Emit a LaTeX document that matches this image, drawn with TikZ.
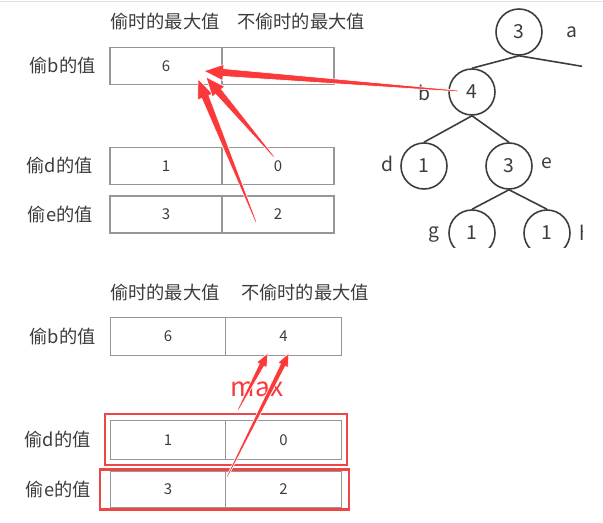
\documentclass[tikz,border=0pt]{standalone}
\usepackage{fontspec}
\setmainfont{Noto Sans CJK SC}
\usetikzlibrary{calc}

\definecolor{arrowred}{RGB}{250,58,58}
\definecolor{boxred}{RGB}{236,70,70}
\definecolor{cellgray}{RGB}{150,150,150}
\definecolor{inkgray}{RGB}{60,60,60}

% tapered red arrow: start, tip, size
\newcommand\redarrow[3]{%
  \coordinate (ab) at ($(#2)!#3*11pt!(#1)$);
  \filldraw[arrowred, draw=white, line width=0.35pt]
    ($(#1)!0.4pt!90:(#2)$) -- ($(ab)!#3*2.2pt!90:(#2)$) -- ($(ab)!#3*4.6pt!90:(#2)$) -- (#2)
    -- ($(ab)!#3*4.6pt!-90:(#2)$) -- ($(ab)!#3*2.2pt!-90:(#2)$) -- ($(#1)!0.4pt!-90:(#2)$) -- cycle;
}

\begin{document}
\begin{tikzpicture}[x=0.02cm,y=-0.02cm]
\tikzset{
cell/.style={draw=cellgray, line width=0.6pt, minimum width=2.24cm, minimum height=0.74cm, inner sep=0pt, font=\fontsize{8.5}{8.5}\selectfont, text=inkgray},
bigcell/.style={cell, minimum width=2.31cm, minimum height=0.77cm},
head/.style={font=\fontsize{10.4}{12}\selectfont, text=inkgray},
rowlabel/.style={anchor=east, font=\fontsize{10.4}{12}\selectfont, text=inkgray},
tnode/.style={draw=inkgray, circle, line width=0.9pt, minimum size=0.92cm, inner sep=0pt, fill=white, font=\fontsize{11}{11}\selectfont, text=inkgray},
tlabel/.style={font=\fontsize{11}{11}\selectfont, text=inkgray},
edge/.style={draw=inkgray, line width=0.9pt},
redbox/.style={draw=boxred, line width=1.3pt}
}

	\useasboundingbox (0,0) rectangle (603,523);
	\draw[gray!25] (0,1) -- (603,1);

	% upper table
	\node[head] (h1) at (165,22) {偷时的最大值};
	\node[head] (h2) at (301,22) {不偷时的最大值};

	\node[rowlabel] (lb) at (102,66) {偷b的值};
	\node[cell] (b1) at (166,66) {6};
	\node[cell] (b2) at (278,66) {};

	\node[rowlabel] (ld) at (99,166) {偷d的值};
	\node[cell] (d1) at (166,166) {1};
	\node[cell] (d2) at (278,166) {0};

	\node[rowlabel] (le) at (99,214.5) {偷e的值};
	\node[cell] (e1) at (166,214.5) {3};
	\node[cell] (e2) at (278,214.5) {2};

	% tree
	\begin{scope}
	\clip (378,3) rectangle (582,248);
	\node[tnode] (ta) at (519,32) {3};
	\node[tnode] (tb) at (472,92) {4};
	\node[tnode] (td) at (424,166) {1};
	\node[tnode] (te) at (509,166) {3};
	\node[tnode] (tg) at (472,233) {1};
	\node[tnode] (th) at (547,233) {1};
	\coordinate (tc) at (640,76);

	\draw[edge] (ta.south) -- (tb.north);
	\draw[edge] (ta.south) -- (tc);
	\draw[edge] (tb.south) -- (td.north);
	\draw[edge] (tb.south) -- (te.north);
	\draw[edge] (te.south) -- (tg.north);
	\draw[edge] (te.south) -- (th.north);

	\node[tlabel] (la) at (572,32) {a};
	\node[tlabel] (lbb) at (424,93) {b};
	\node[tlabel] (ldd) at (387,164) {d};
	\node[tlabel] (lee) at (547,163) {e};
	\node[tlabel] (lgg) at (434,235) {g};
	\node[tlabel] (lhh) at (585,233) {h};
	\end{scope}

	% arrows into the upper table
	\coordinate (s1) at (458,91);
	\coordinate (t1) at (204,71);
	\coordinate (s2) at (274,157);
	\coordinate (t2) at (206,77);
	\coordinate (s3) at (256,222);
	\coordinate (t3) at (198,79);
	\redarrow{s1}{t1}{1}
	\redarrow{s3}{t3}{1}
	\redarrow{s2}{t2}{1}

	% lower table
	\node[head] (k1) at (165,293) {偷时的最大值};
	\node[head] (k2) at (305,293) {不偷时的最大值};

	\node[rowlabel] (mb) at (102,336.5) {偷b的值};
	\node[bigcell] (bb1) at (168,336.5) {6};
	\node[bigcell] (bb2) at (283.5,336.5) {4};

	\node[rowlabel] (md) at (97,440) {偷d的值};
	\node[bigcell] (dd1) at (168,440) {1};
	\node[bigcell] (dd2) at (283.5,440) {0};

	\node[rowlabel] (me) at (97,489.5) {偷e的值};
	\node[bigcell, minimum height=0.74cm] (ee1) at (168,489.5) {3};
	\node[bigcell, minimum height=0.74cm] (ee2) at (283.5,489.5) {2};

	\draw[redbox] ($(dd1.north west)+(-5,-6)$) rectangle ($(dd2.south east)+(5,5)$);
	\draw[redbox] ($(ee1.north west)+(-10,-1)$) rectangle ($(ee2.south east)+(7,1)$);

	\node[text=arrowred, font=\fontsize{15}{15}\selectfont] (mx) at (257,389) {max};

	\coordinate (u1) at (238,410);
	\coordinate (v1) at (268,353);
	\coordinate (u2) at (227,477);
	\coordinate (v2) at (289,353);
	\redarrow{u1}{v1}{0.7}
	\redarrow{u2}{v2}{0.7}

\end{tikzpicture}
\end{document}
